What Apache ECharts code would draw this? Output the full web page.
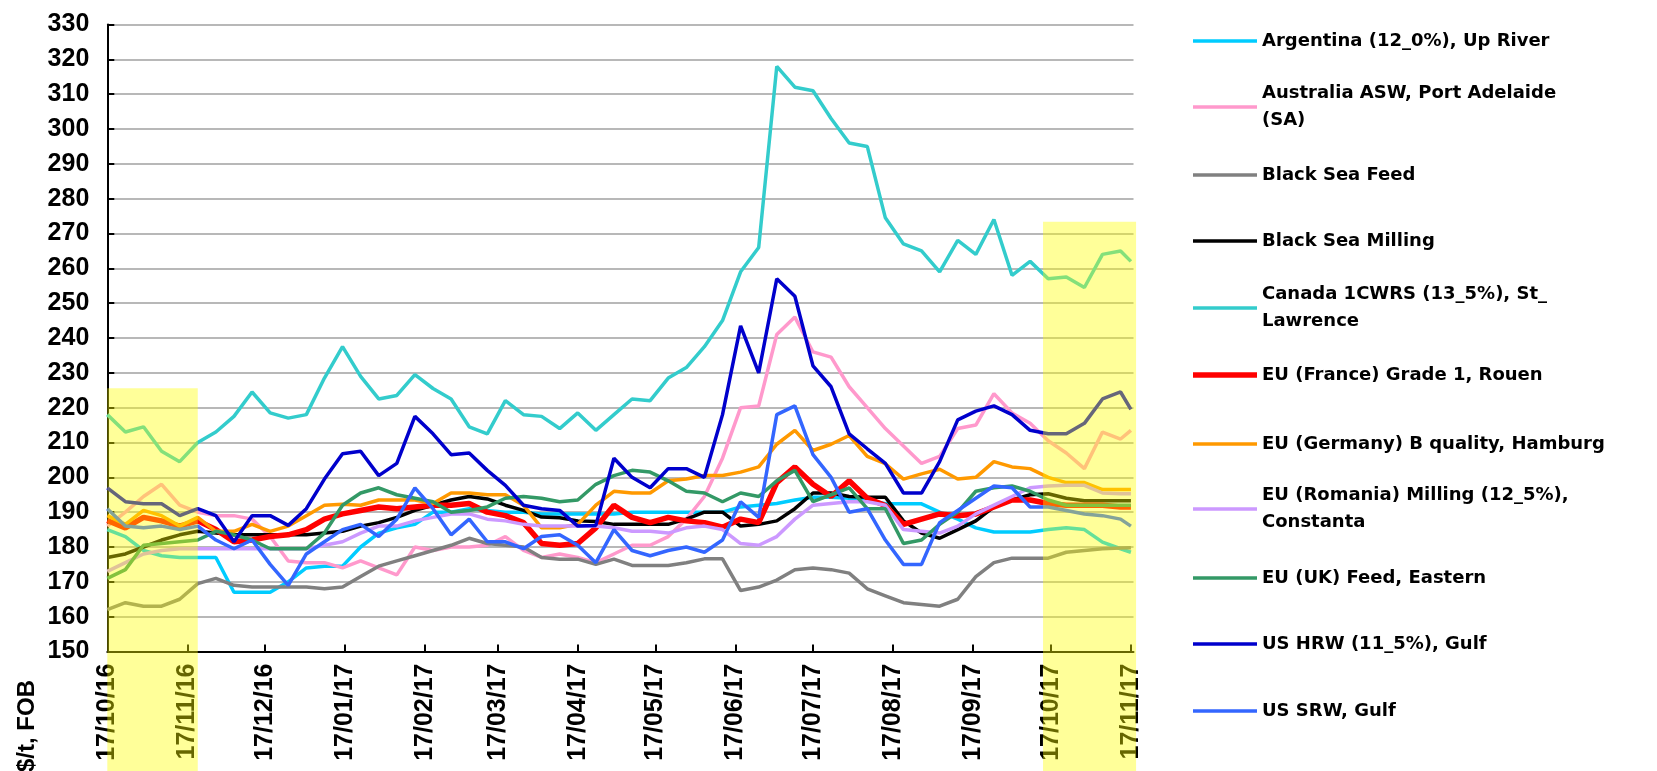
<!DOCTYPE html>
<html>
<head>
<meta charset="utf-8">
<script src="https://cdn.jsdelivr.net/npm/echarts@6/dist/echarts.min.js"></script>
<style>
  html, body { margin: 0; padding: 0; background: #fff; }
  #chart { width: 1657px; height: 771px; }
</style>
</head>
<body>
<div id="chart"></div>
<script>
// weekly readings, 17/10/16 .. 17/11/17
const dates = [
  '2016-10-17','2016-10-24','2016-10-31','2016-11-07','2016-11-14','2016-11-21','2016-11-28','2016-12-05',
  '2016-12-12','2016-12-19','2016-12-26','2017-01-02','2017-01-09','2017-01-16','2017-01-23','2017-01-30',
  '2017-02-06','2017-02-13','2017-02-20','2017-02-27','2017-03-06','2017-03-13','2017-03-20','2017-03-27',
  '2017-04-03','2017-04-10','2017-04-17','2017-04-24','2017-05-01','2017-05-08','2017-05-15','2017-05-22',
  '2017-05-29','2017-06-05','2017-06-12','2017-06-19','2017-06-26','2017-07-03','2017-07-10','2017-07-17',
  '2017-07-24','2017-07-31','2017-08-07','2017-08-14','2017-08-21','2017-08-28','2017-09-04','2017-09-11',
  '2017-09-18','2017-09-25','2017-10-02','2017-10-09','2017-10-16','2017-10-23','2017-10-30','2017-11-06',
  '2017-11-13','2017-11-17'
];

const tickDates = [
  '2016-10-17','2016-11-17','2016-12-17','2017-01-17','2017-02-17','2017-03-17','2017-04-17',
  '2017-05-17','2017-06-17','2017-07-17','2017-08-17','2017-09-17','2017-10-17','2017-11-17'
];

const argentina = [185,183,179,177.5,177,177,177,167,167,167,170,174,174.5,174.5,180,
  184,185.5,186.5,190,190,191,190.5,190,190,189.5,189.5,189.5,189.5,189.5,
  190,190,190,190,190,190,191.5,192,192.5,193.5,194.3,194.3,194,193.5,192.4,
  192.4,192.4,190,188,185.5,184.3,184.3,184.3,185,185.5,185,181.4,179.5,178.5];
const australia = [186,190,194.5,198,192,190,189,189,188,183,176,175.5,175.5,174,176,
  174,172,180,179,180,180,180.5,183,179,177,178,177,175.5,178,
  180.5,180.5,183,188,194.5,205.5,220,220.5,241,246,236,234.5,226,220,214,
  209,204,206,214,215,224,218.5,215.5,210.5,207,202.5,213,211,213.5];
const blackSeaFeed = [162,164,163,163,165,169.5,171,169,168.5,168.5,168.5,168.5,168,168.5,171.5,
  174.5,176,177.5,179,180.5,182.5,181,180.5,180,177,176.5,176.5,175,176.5,
  174.7,174.7,174.7,175.5,176.6,176.6,167.5,168.5,170.5,173.5,174,173.5,172.5,168,166,
  164,163.5,163,165,171.5,175.5,176.8,176.8,176.8,178.5,179,179.5,179.7,179.8];
const blackSeaMilling = [177,178,180,182,183.5,184.5,184,183.5,183.5,183.5,183.5,183.5,184,184.5,186,
  187,188.5,190.5,192,193.5,194.5,193.8,192,190.5,188.6,188.4,187.5,187.3,186.5,
  186.5,186.5,186.5,188,190,190,186,186.5,187.5,191,195.5,195.5,194.5,194.3,194.3,
  187.5,184,182.5,185,187.5,191.5,193.5,195,195.3,194,193.3,193.3,193.3,193.3];
const canada = [218,213,214.5,207.5,204.5,210,213,217.5,224.5,218.5,217,218,228.5,237.5,229,
  222.5,223.5,229.5,225.5,222.5,214.5,212.5,222,218,217.5,214,218.5,213.5,218,
  222.5,222,228.5,231.5,237.5,245,259,266,318,312,311,303,296,295,274.5,
  267,265,259,268,264,274,258,262,257,257.5,254.5,264,265,262];
const france = [187.6,185.5,188.5,187.5,186,187.5,185,181.5,182,183,183.5,185,188,189.5,190.5,
  191.5,191,191.5,192,192,192.5,190,189,187,181,180.5,181,185.5,192,
  188.5,187,188.5,187.5,187,185.7,188,187,198.5,203,198,194.5,199,194,191.9,
  186.5,188,189.5,189,189.5,191.5,193.5,193.5,192.5,192,192,192,191.5,191.5];
const germany = [189,186.5,190.5,189,186,188.5,184.5,184.5,186.5,184.5,186,189,192,192.3,192,
  193.5,193.5,193.5,192.5,195.5,195.5,195,195,192,185.5,185.5,186.5,192,196,
  195.5,195.5,199,199.5,200.5,200.5,201.5,203,209.5,213.5,207.7,209.5,212,206,203.9,
  199.5,201,202.3,199.5,200,204.5,203,202.5,200,198.5,198.5,196.5,196.5,196.5];
const romania = [173,175.5,178,179,179.5,179.5,179.5,179.5,179.5,179.5,179.5,179.5,180.5,181.5,184,
  186,186,187.5,188.5,189.5,189.5,188,187.5,186.5,186,186,186,186,185.5,
  184.5,184.5,184,185.5,186,185,181,180.5,183,188,192,192.5,193,193,192,
  185,184.5,184,186,189.5,192,194.5,197,197.5,197.7,197.7,195.5,195.3,195.3];
const ukFeed = [171,173.5,180.5,181,181.5,182,184.5,183.5,182,179.5,179.5,179.5,184,192,195.5,
  197,195,194,193,190,190.5,191.5,194,194.5,194,193,193.5,198,200.5,
  202,201.5,199,196,195.5,193,195.5,194.5,199,202,193,195,197,191,191,
  181,182,186.5,190,196,197,197.5,196,193.5,192,192,192,192,192];
const usHrw = [197,193,192.4,192.4,189,191,189,181.5,189,189,186.2,191,199.5,206.8,207.5,
  200.5,204,217.5,212.5,206.5,207,202,197.7,192,191,190.5,186,186.2,205.5,
  200,197,202.5,202.5,200,218,243.5,230,257,252,232,226,212.5,208.2,204,
  195.5,195.5,204.5,216.5,219,220.5,218,213.5,212.5,212.5,215.5,222.5,224.5,219.5];
const usSrw = [191,186,185.5,186,185,186,182,179.5,182,175,169,178,181.5,185,186.5,
  183,188,197,191,183.5,188,181.5,181.5,179.5,183,183.5,180.5,175.5,185,
  179,177.5,179,180,178.5,182,193,188.5,218,220.5,206.5,200,190,191,182,
  175,175,187,190.5,194,197.5,197,191.5,191.5,190.5,189.5,189,188,186];

// highlighted periods
const shadeFrom = ['2016-10-17', '2017-10-14'];
const shadeTo = ['2016-11-21', '2017-11-19'];
const shadeTop = [225.6, 273.4];

// x axis is a day count from the first date, labelled back as dd/mm/yy
const start = dates[0];
const toDate = s => { const p = s.split('-').map(Number); return new Date(p[0], p[1] - 1, p[2]); };
const dayOf = s => Math.round((toDate(s) - toDate(start)) / 86400000);
const pad = n => (n < 10 ? '0' : '') + n;
const fmt = v => {
  const d = toDate(start);
  d.setDate(d.getDate() + Math.round(v));
  return pad(d.getDate()) + '/' + pad(d.getMonth() + 1) + '/' + pad(d.getFullYear() % 100);
};

const defs = [
  ['Argentina (12_0%), Up River', argentina, '#00CCFF', 3.5],
  ['Australia ASW, Port Adelaide (SA)', australia, '#FF99CC', 3.5],
  ['Black Sea Feed', blackSeaFeed, '#808080', 3.5],
  ['Black Sea Milling', blackSeaMilling, '#000000', 3.5],
  ['Canada 1CWRS (13_5%), St_ Lawrence', canada, '#33CCCC', 3.5],
  ['EU (France) Grade 1, Rouen', france, '#FF0000', 5.5],
  ['EU (Germany) B quality, Hamburg', germany, '#FF9900', 3.5],
  ['EU (Romania) Milling (12_5%), Constanta', romania, '#CC99FF', 3.5],
  ['EU (UK) Feed, Eastern', ukFeed, '#339966', 3.5],
  ['US HRW (11_5%), Gulf', usHrw, '#0000CC', 3.5],
  ['US SRW, Gulf', usSrw, '#3366FF', 3.5]
];
const wrapped = {
  'Australia ASW, Port Adelaide (SA)': 'Australia ASW, Port Adelaide\n(SA)',
  'Canada 1CWRS (13_5%), St_ Lawrence': 'Canada 1CWRS (13_5%), St_\nLawrence',
  'EU (Romania) Milling (12_5%), Constanta': 'EU (Romania) Milling (12_5%),\nConstanta'
};
const legendY = [41, 107, 175, 241, 308, 375, 444, 509, 578, 644, 711];

const chart = echarts.init(document.getElementById('chart'));

const series = defs.map(s => ({
  name: s[0],
  type: 'line',
  symbol: 'none',
  data: dates.map((d, i) => [dayOf(d), s[1][i]]),
  lineStyle: { width: s[3], color: s[2] },
  itemStyle: { color: s[2] },
  emphasis: { disabled: true }
}));

series.push({
  type: 'custom',
  silent: true,
  z: 10,
  data: shadeFrom.map((f, i) => [dayOf(f), dayOf(shadeTo[i]), shadeTop[i]]),
  encode: { x: [0, 1], y: 2 },
  renderItem: (params, api) => {
    const a = api.coord([api.value(0), api.value(2)]);
    const b = api.coord([api.value(1), 150]);
    return {
      type: 'rect',
      shape: { x: a[0], y: a[1], width: b[0] - a[0], height: api.getHeight() - a[1] },
      style: { fill: 'rgba(255,255,0,0.4)' }
    };
  }
});

const labelFont = { fontFamily: 'Liberation Sans', fontWeight: 'bold', fontSize: 25, color: '#000' };
const tickDays = tickDates.map(dayOf);

const option = {
  animation: false,
  backgroundColor: '#fff',
  grid: { left: 107.3, right: 523.5, top: 24.5, bottom: 119.5 },
  xAxis: {
    type: 'value',
    min: 0,
    max: dayOf('2017-11-18'),
    axisLine: { lineStyle: { color: '#000', width: 2 } },
    axisTick: { inside: true, length: 7, lineStyle: { color: '#000', width: 2 }, customValues: tickDays },
    axisLabel: Object.assign({ rotate: 90, margin: 12, customValues: tickDays, formatter: fmt }, labelFont),
    splitLine: { show: false }
  },
  yAxis: {
    type: 'value',
    min: 150,
    max: 330,
    interval: 10,
    axisLine: { show: true, lineStyle: { color: '#000', width: 2 } },
    axisTick: { show: true, inside: true, length: 7, lineStyle: { color: '#000', width: 2 } },
    axisLabel: Object.assign({ margin: 18 }, labelFont),
    splitLine: { lineStyle: { color: '#a0a0a0', width: 1.5 } }
  },
  legend: defs.map((s, i) => {
    const txt = wrapped[s[0]] || s[0];
    const two = txt.indexOf('\n') > -1;
    return {
      data: [s[0]],
      left: 1193,
      top: legendY[i] - (two ? 40.5 : 13.5),
      padding: 0,
      icon: 'rect',
      itemWidth: 64,
      itemHeight: s[3] > 4 ? 5.5 : 3.5,
      selectedMode: false,
      formatter: () => txt,
      textStyle: {
        fontFamily: 'DejaVu Sans', fontWeight: 'bold', fontSize: 18, color: '#000',
        lineHeight: 27, padding: two ? [27, 0, 0, 0] : 0
      }
    };
  }),
  graphic: [{
    type: 'text',
    x: 27,
    y: 772,
    rotation: Math.PI / 2,
    style: { text: '$/t, FOB', fontFamily: 'Liberation Sans', fontWeight: 'bold', fontSize: 24, fill: '#000', align: 'left', verticalAlign: 'middle' }
  }],
  series: series
};

chart.setOption(option);
</script>
</body>
</html>
